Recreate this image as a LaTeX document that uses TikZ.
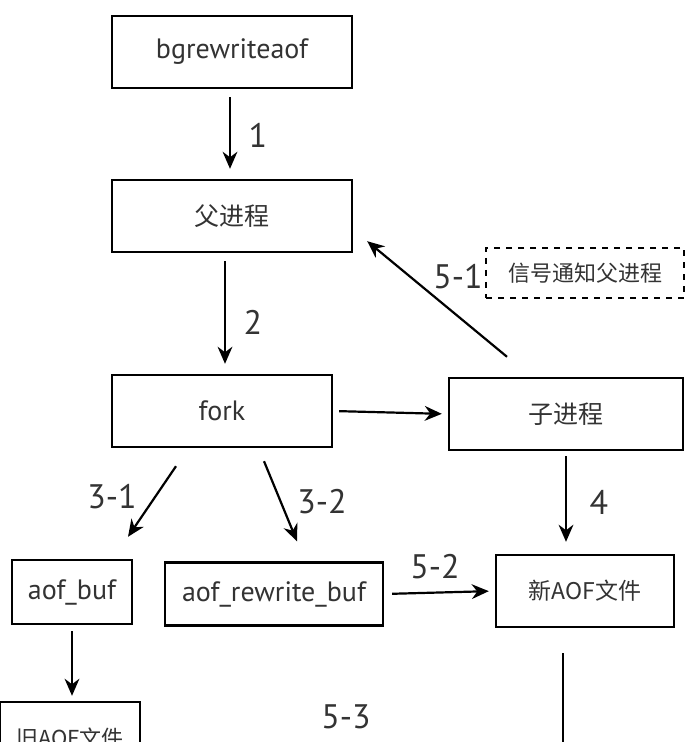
\documentclass[tikz,border=0pt]{standalone}
\usepackage{fontspec}
\setmainfont{PT Sans}
\newfontfamily\cjk{Noto Sans CJK SC}
\usetikzlibrary{arrows.meta}

\begin{document}
\begin{tikzpicture}[
    x=0.5pt, y=-0.5pt,
    box/.style={draw, line width=1.2pt, inner sep=0pt, minimum width=#1, minimum height=36pt, text=black!80, font=\fontsize{14}{16}\selectfont},
    box/.default=120pt,
    cbox/.style={box=#1, font=\cjk\fontsize{12.5}{14}\selectfont},
    num/.style={text=black!80, font=\fontsize{17}{19}\selectfont},
    link/.style={-{Stealth[length=3mm, width=2.6mm]}, line width=1.1pt, shorten <=4pt, shorten >=5pt}
]
\useasboundingbox (0,0) rectangle (690,742);
\clip (0,0) rectangle (690,742);
% boxes
\node[box] (bgre) at (232,52) {bgrewriteaof};
\node[cbox=120pt] (parent) at (232,216) {父进程};
\node[box=110pt] (fork) at (222,411) {fork};
\node[cbox=117pt] (child) at (566,414) {子进程};
\node[cbox=99pt, dashed, minimum height=25pt, font=\cjk\fontsize{11}{13}\selectfont] (signal) at (585,273) {信号通知父进程};
\node[box=60pt, minimum height=32pt] (aofbuf) at (72,592) {aof\_buf};
\node[box=109pt, minimum height=31.5pt] (rewrite) at (274,594) {aof\_rewrite\_buf};
\node[cbox=89pt, font=\cjk\fontsize{11.5}{13}\selectfont] (newaof) at (585,591) {新AOF文件};
\node[cbox=70pt, font=\cjk\fontsize{11}{13}\selectfont] (oldaof) at (70,738) {旧AOF文件};
\coordinate (down) at (563,800);
% connectors
\draw[link] ([xshift=-1pt]bgre.south) -- ([xshift=-1pt]bgre.south |- parent.north);
\draw[link] ([xshift=-3.5pt]parent.south) -- ([xshift=-3.5pt]parent.south |- fork.north);
\draw[link, shorten <=3pt, shorten >=3pt] (fork.east) -- (child.west);
\draw[link, shorten <=0pt, shorten >=0pt] ([xshift=-29.5pt, yshift=10pt]child.north) -- ([shift={(7pt,6pt)}]parent.south east);
\draw[link, shorten <=0pt, shorten >=0pt] ([shift={(-23pt,-9pt)}]fork.south) -- ([shift={(28pt,11pt)}]aofbuf.north);
\draw[link, shorten <=0pt, shorten >=0pt] ([shift={(21pt,-6.5pt)}]fork.south) -- ([shift={(11.5pt,10pt)}]rewrite.north);
\draw[link, shorten <=2.5pt, shorten >=6pt] (child.south) -- (child.south |- newaof.north);
\draw[link, shorten <=4pt, shorten >=3pt] (rewrite.east) -- (newaof.west);
\draw[link, shorten <=3pt, shorten >=2.5pt] (aofbuf.south) -- (aofbuf.south |- oldaof.north);
\draw[link, shorten <=12.5pt] ([xshift=-11pt]newaof.south) -- (down);
% step numbers
\node[num] (n1) at (258,135) {1};
\node[num] (n2) at (253,322) {2};
\node[num] (n51) at (458,277) {5-1};
\node[num] (n31) at (112,497) {3-1};
\node[num] (n32) at (322,502) {3-2};
\node[num] (n4) at (599,502) {4};
\node[num] (n52) at (435,567) {5-2};
\node[num] (n53) at (346,717) {5-3};
\end{tikzpicture}
\end{document}
